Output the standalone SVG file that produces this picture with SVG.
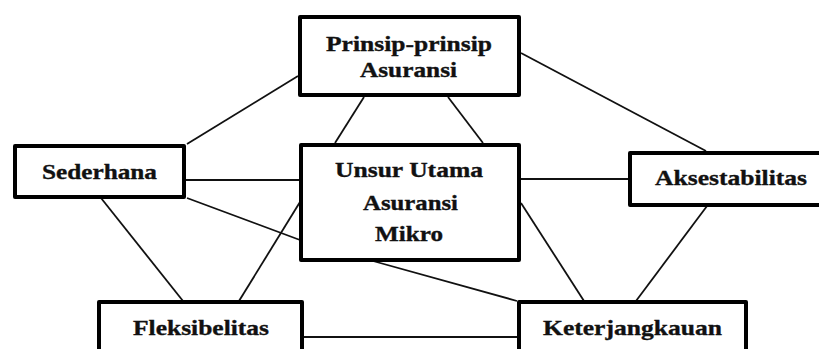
<svg xmlns="http://www.w3.org/2000/svg" width="819" height="349" viewBox="0 0 819 349">
<style>
.box{fill:#fff;stroke:#000;stroke-width:4;stroke-linejoin:round}
.lbl{font-family:'Liberation Serif','Times New Roman',serif;font-weight:700;font-size:22px;fill:#111;stroke:#111;stroke-width:0.35;text-anchor:middle}
.con{stroke:#111;stroke-width:1.8;fill:none}
</style>
<rect width="819" height="349" fill="#fff"/>
<g id="connectors">
<line class="con" x1="298" y1="76" x2="187" y2="144"/>
<line class="con" x1="364" y1="97" x2="335" y2="143"/>
<line class="con" x1="448" y1="97" x2="483" y2="143"/>
<line class="con" x1="521" y1="53" x2="706" y2="151"/>
<line class="con" x1="184" y1="180" x2="301" y2="180"/>
<polyline class="con" points="187,198 300,240 373,261 517,301"/>
<line class="con" x1="300" y1="202" x2="239" y2="301"/>
<line class="con" x1="101" y1="198" x2="183" y2="301"/>
<line class="con" x1="302" y1="337" x2="519" y2="337"/>
<line class="con" x1="519" y1="179" x2="630" y2="179"/>
<line class="con" x1="521" y1="203" x2="584" y2="301"/>
<line class="con" x1="707" y1="206" x2="636" y2="301"/>
</g>
<g id="prinsip">
<rect class="box" x="300" y="17" width="219" height="78"/>
<text class="lbl" x="409" y="51" textLength="166" lengthAdjust="spacingAndGlyphs">Prinsip-prinsip</text>
<text class="lbl" x="408.5" y="77" textLength="97" lengthAdjust="spacingAndGlyphs">Asuransi</text>
</g>
<g id="sederhana">
<rect class="box" x="15" y="146" width="169" height="51"/>
<text class="lbl" x="99.5" y="179" textLength="115" lengthAdjust="spacingAndGlyphs">Sederhana</text>
</g>
<g id="unsur">
<rect class="box" x="301" y="145" width="218" height="115"/>
<text class="lbl" x="409" y="177" textLength="148" lengthAdjust="spacingAndGlyphs">Unsur Utama</text>
<text class="lbl" x="410.5" y="210" textLength="95" lengthAdjust="spacingAndGlyphs">Asuransi</text>
<text class="lbl" x="409" y="241" textLength="68" lengthAdjust="spacingAndGlyphs">Mikro</text>
</g>
<g id="aksestabilitas">
<rect class="box" x="630" y="153" width="200" height="52"/>
<text class="lbl" x="731" y="185" textLength="152" lengthAdjust="spacingAndGlyphs">Aksestabilitas</text>
</g>
<g id="fleksibelitas">
<rect class="box" x="99" y="302" width="203" height="60"/>
<text class="lbl" x="201" y="335" textLength="136" lengthAdjust="spacingAndGlyphs">Fleksibelitas</text>
</g>
<g id="keterjangkauan">
<rect class="box" x="519" y="302" width="227" height="60"/>
<text class="lbl" x="632.5" y="335" textLength="179" lengthAdjust="spacingAndGlyphs">Keterjangkauan</text>
</g>
</svg>
